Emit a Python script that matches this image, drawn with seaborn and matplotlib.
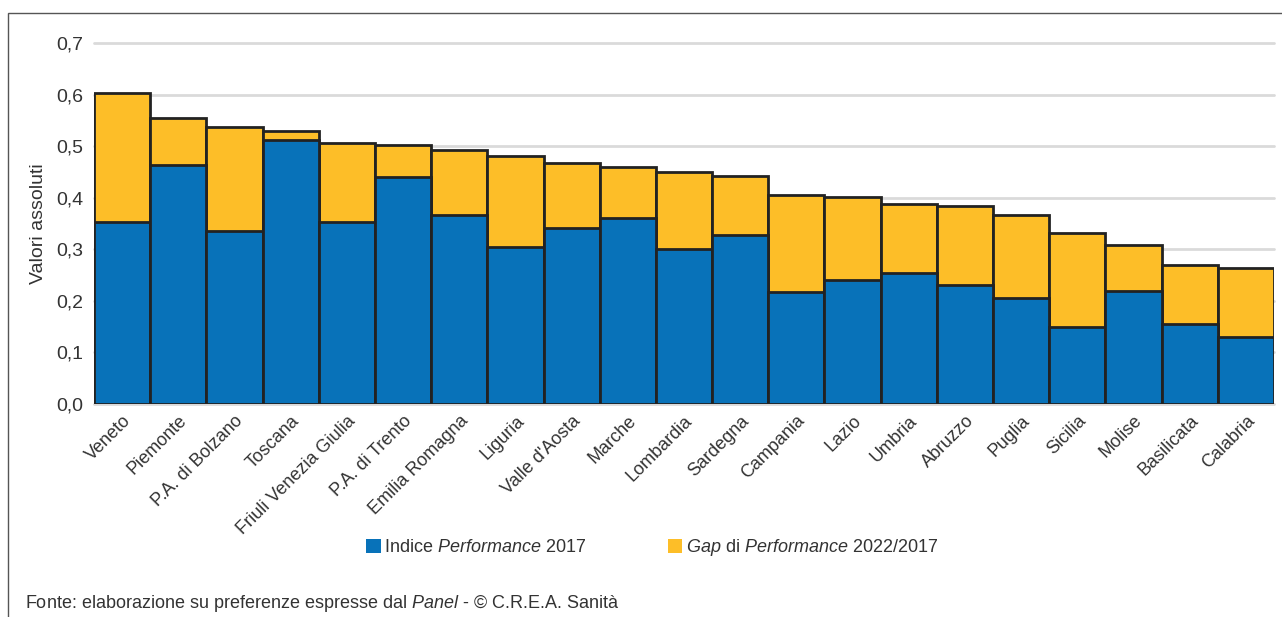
import numpy as np
import pandas as pd
import seaborn as sns
import matplotlib.pyplot as plt
from matplotlib.patches import Patch, Rectangle
from matplotlib.ticker import FuncFormatter

# Dati
regioni = ["Veneto", "Piemonte", "P.A. di Bolzano", "Toscana", "Friuli Venezia Giulia",
           "P.A. di Trento", "Emilia Romagna", "Liguria", "Valle d'Aosta", "Marche",
           "Lombardia", "Sardegna", "Campania", "Lazio", "Umbria", "Abruzzo", "Puglia",
           "Sicilia", "Molise", "Basilicata", "Calabria"]
indice_2017 = [0.353, 0.463, 0.335, 0.512, 0.353, 0.440, 0.366, 0.304, 0.341, 0.360,
               0.300, 0.328, 0.217, 0.240, 0.254, 0.231, 0.205, 0.149, 0.219, 0.155, 0.130]
totale_2022 = [0.603, 0.554, 0.537, 0.529, 0.506, 0.502, 0.492, 0.481, 0.467, 0.459,
               0.450, 0.442, 0.405, 0.401, 0.388, 0.384, 0.366, 0.331, 0.308, 0.269, 0.264]

blu = "#0872B9"
giallo = "#FDBE28"

df = pd.DataFrame({"Regione": regioni, "Indice": indice_2017, "Totale": totale_2022})

sns.set_style("white")
plt.rcParams["font.family"] = ["Liberation Sans", "DejaVu Sans"]
plt.rcParams["mathtext.fontset"] = "custom"
plt.rcParams["mathtext.rm"] = "Liberation Sans"
plt.rcParams["mathtext.it"] = "Liberation Sans:italic"

fig = plt.figure(figsize=(12.82, 6.17), dpi=100)
ax = fig.add_axes([94 / 1282, 1 - 404 / 617, 1180 / 1282, 361 / 617])

# barre impilate: prima il totale (giallo), poi l'indice 2017 (blu) sopra
sns.barplot(data=df, x="Regione", y="Totale", color=giallo, width=1.0,
            edgecolor="#222222", linewidth=2, ax=ax, saturation=1)
sns.barplot(data=df, x="Regione", y="Indice", color=blu, width=1.0,
            edgecolor="#222222", linewidth=2, ax=ax, saturation=1)

ax.set_ylim(0, 0.7)
ax.set_xlim(-0.5, len(regioni) - 0.5)
ax.set_yticks(np.arange(0, 0.71, 0.1))
ax.yaxis.set_major_formatter(FuncFormatter(lambda v, p: f"{v:.1f}".replace(".", ",")))
ax.grid(axis="y", color="#DADADA", linewidth=2, zorder=0)
ax.set_axisbelow(True)
for s in ax.spines.values():
    s.set_visible(False)
ax.tick_params(axis="both", length=0, labelsize=14, colors="#333333")
ax.tick_params(axis="y", pad=8)
ax.tick_params(axis="x", pad=6)
plt.setp(ax.get_xticklabels(), rotation=45, ha="right", rotation_mode="anchor", fontsize=13)
ax.set_xlabel("")
ax.set_ylabel("Valori assoluti", fontsize=14, color="#333333", labelpad=6)
for gl in ax.get_ygridlines():
    gl.set_clip_on(False)

# legenda
handles = [Patch(facecolor=blu, edgecolor="none"), Patch(facecolor=giallo, edgecolor="none")]
labels = [r"Indice $Performance$ 2017", r"$Gap$ di $Performance$ 2022/2017"]
fig.legend(handles, labels, loc="center", bbox_to_anchor=(652 / 1282, 1 - 548 / 617),
           ncol=2, frameon=False, fontsize=13, handlelength=0.8, handleheight=0.8,
           handletextpad=0.2, columnspacing=4.5, labelcolor="#333333")

# fonte
fig.text(25 / 1282, 1 - 603 / 617,
         r"Fonte: elaborazione su preferenze espresse dal $Panel$ - © C.R.E.A. Sanità",
         fontsize=13, color="#333333", va="center", ha="left")

# cornice
fig.add_artist(Rectangle((8 / 1282, -0.05), 1.2, 1 - 13 / 617 + 0.05, transform=fig.transFigure,
                         fill=False, edgecolor="#555555", linewidth=1))

fig.savefig("out.png", dpi=100)
